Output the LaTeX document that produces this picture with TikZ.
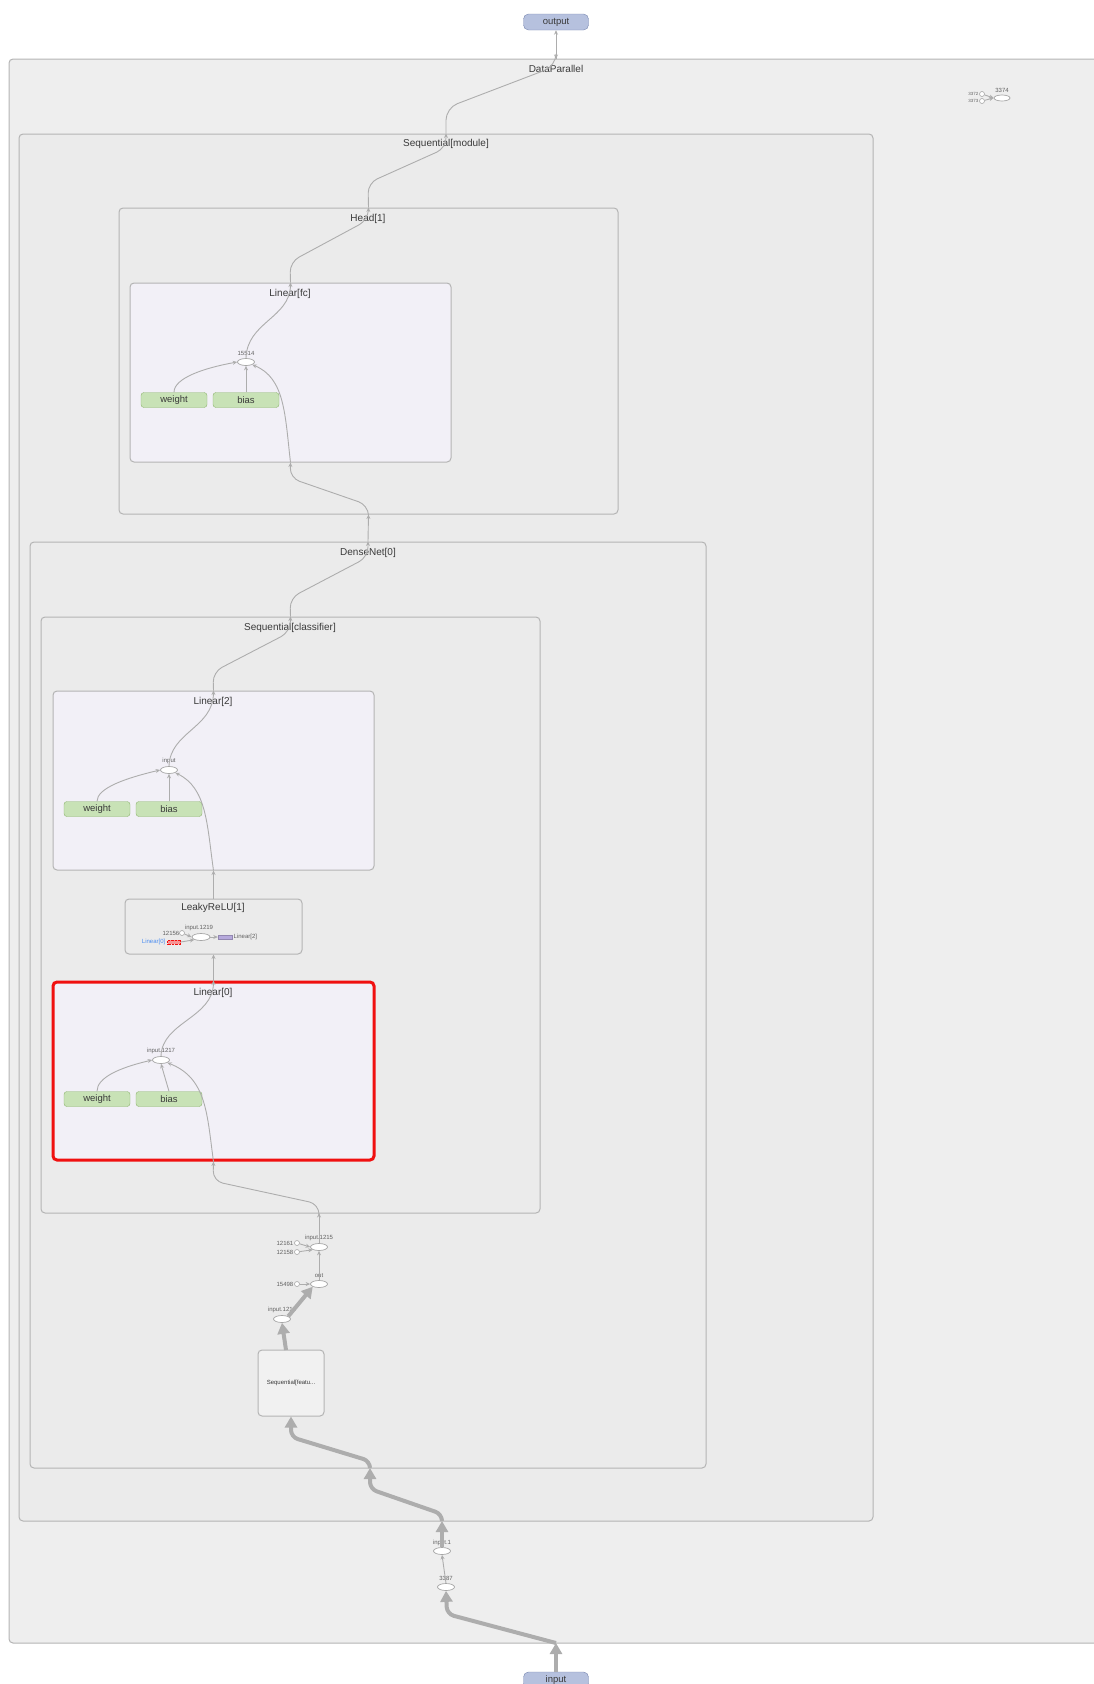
\documentclass[tikz,border=0pt]{standalone}
\usepackage{fontspec}
\setmainfont{Liberation Sans}
\usetikzlibrary{arrows.meta,shapes.geometric}

\definecolor{pagefill}{HTML}{EEEEEE}
\definecolor{boxfill}{HTML}{EBEBEB}
\definecolor{boxline}{HTML}{B4B4B4}
\definecolor{lavfill}{HTML}{F2F0F7}
\definecolor{paramfill}{HTML}{C8E2B6}
\definecolor{paramline}{HTML}{8DB46F}
\definecolor{iofill}{HTML}{B6C1DE}
\definecolor{ioline}{HTML}{7887B0}
\definecolor{edgecol}{HTML}{ADADAD}
\definecolor{txtcol}{HTML}{3A3A3A}
\definecolor{linkblue}{HTML}{4A8CF0}
\definecolor{refpurple}{HTML}{B6A9DC}
\definecolor{hlred}{HTML}{F01010}

\tikzset{
  cluster/.style={draw=boxline, fill=boxfill, line width=1pt, rounded corners=4pt, inner sep=0pt},
  linbox/.style={cluster, fill=lavfill},
  title/.style={font=\fontsize{10}{11}\selectfont, text=txtcol, inner sep=1pt},
  param/.style={draw=paramline, fill=paramfill, rounded corners=3pt, minimum width=66pt, minimum height=15pt,
    inner sep=0pt, font=\fontsize{9.5}{10}\selectfont, text=txtcol},
  iobox/.style={draw=ioline, fill=iofill, rounded corners=5pt, minimum width=65pt, minimum height=16pt,
    inner sep=0pt, font=\fontsize{9.5}{10}\selectfont, text=txtcol},
  op/.style={ellipse, draw=gray!70, fill=white, line width=0.7pt, minimum width=17pt, minimum height=7pt, inner sep=0pt},
  const/.style={circle, draw=gray!70, fill=white, line width=0.6pt, minimum size=5pt, inner sep=0pt},
  tiny/.style={font=\fontsize{6}{6.5}\selectfont, text=txtcol!80, inner sep=0.5pt},
  flow/.style={draw=edgecol, line width=0.9pt, -{Stealth[length=4.5pt,width=4pt]}},
  bigflow/.style={draw=edgecol, line width=4pt, -{Triangle[length=11pt,width=12pt]}},
}

\begin{document}
\begin{tikzpicture}[x=1pt,y=-1pt]
\useasboundingbox (0,0) rectangle (1094,1684);

% nested module boxes
\node[cluster, fill=pagefill, minimum width=1102pt, minimum height=1584pt] (dp) at (560,851) {};
\node[cluster, minimum width=854pt, minimum height=1387pt] (module) at (446,827.5) {};
\node[cluster, minimum width=499pt, minimum height=306pt] (head) at (368.5,361) {};
\node[linbox, minimum width=321pt, minimum height=179pt] (linfc) at (290.5,372.5) {};
\node[cluster, minimum width=676pt, minimum height=926pt] (dense) at (368,1005) {};
\node[cluster, minimum width=499pt, minimum height=596pt] (classif) at (290.5,915) {};
\node[linbox, minimum width=321pt, minimum height=179pt] (lin2) at (213.5,780.5) {};
\node[cluster, minimum width=177pt, minimum height=55pt] (leaky) at (213.5,926.5) {};
\node[linbox, draw=hlred, line width=3pt, minimum width=321pt, minimum height=178pt] (lin0) at (213.5,1071) {};
\node[cluster, fill=boxfill!70!white, minimum width=66pt, minimum height=66pt,
  font=\fontsize{6}{7}\selectfont, text=txtcol] (feat) at (291,1383) {Sequential[featu...};

% box titles
\node[title] (dplbl) at (556,69) {DataParallel};
\node[title] (modulelbl) at (446,144) {Sequential[module]};
\node[title] (headlbl) at (368,219) {Head[1]};
\node[title] (linfclbl) at (290,294) {Linear[fc]};
\node[title] (denselbl) at (368,553) {DenseNet[0]};
\node[title] (classiflbl) at (290,628) {Sequential[classifier]};
\node[title] (lin2lbl) at (213,702) {Linear[2]};
\node[title] (leakylbl) at (213,908) {LeakyReLU[1]};
\node[title] (lin0lbl) at (213,993) {Linear[0]};

% graph ends
\node[iobox] (output) at (556,22) {output};
\node[iobox] (input) at (556,1680) {input};

% Linear[fc]
\node[op] (n15514) at (246,362) {};
\node[tiny] (n15514lbl) at (246,353) {15514};
\node[param] (wfc) at (174,400) {weight};
\node[param] (bfc) at (246,400) {bias};

% Linear[2]
\node[op] (in2) at (169,770) {};
\node[tiny] (in2lbl) at (169,761) {input};
\node[param] (w2) at (97,809) {weight};
\node[param] (b2) at (169,809) {bias};

% LeakyReLU[1]
\node[op, minimum width=18pt] (in1219) at (201,937) {};
\node[tiny] (in1219lbl) at (199,928) {input.1219};
\node[const] (c12156) at (182,933) {};
\node[tiny, anchor=east] (c12156lbl) at (180,933) {12156};
\node[draw=hlred, densely dotted, fill=hlred!45, minimum width=13pt, minimum height=4pt, inner sep=0pt] (ref0) at (174,942) {};
\node[tiny, text=linkblue, anchor=east] (ref0lbl) at (166,942) {Linear[0]};
\node[draw=refpurple!80!black, fill=refpurple, minimum width=14pt, minimum height=4pt, inner sep=0pt] (ref2) at (225,937) {};
\node[tiny, anchor=west] (ref2lbl) at (233,937) {Linear[2]};

% Linear[0]
\node[op] (in1217) at (161,1060) {};
\node[tiny] (in1217lbl) at (161,1051) {input.1217};
\node[param] (w0) at (97,1099) {weight};
\node[param] (b0) at (169,1099) {bias};

% DenseNet[0] ops
\node[op] (in1215) at (319,1247) {};
\node[tiny] (in1215lbl) at (319,1238) {input.1215};
\node[const] (c12161) at (297,1243) {};
\node[tiny, anchor=east] (c12161lbl) at (294,1243) {12161};
\node[const] (c12158) at (297,1252) {};
\node[tiny, anchor=east] (c12158lbl) at (294,1252) {12158};
\node[op] (out) at (319,1284) {};
\node[tiny] (outlbl) at (319,1276) {out};
\node[const] (c15498) at (297,1284) {};
\node[tiny, anchor=east] (c15498lbl) at (294,1284) {15498};
\node[op] (in1213) at (282,1319) {};
\node[tiny] (in1213lbl) at (282,1310) {input.1213};

% DataParallel ops
\node[op] (in1) at (442,1551) {};
\node[tiny] (in1lbl) at (442,1543) {input.1};
\node[op] (n3387) at (446,1587) {};
\node[tiny] (n3387lbl) at (446,1578) {3387};
\node[op, minimum width=16pt, minimum height=6pt] (n3374) at (1002,98) {};
\node[tiny] (n3374lbl) at (1002,90) {3374};
\node[const] (c3372) at (982,94) {};
\node[tiny, anchor=east, font=\fontsize{4.5}{5}\selectfont] (c3372lbl) at (979,94) {3372};
\node[const] (c3373) at (982,101) {};
\node[tiny, anchor=east, font=\fontsize{4.5}{5}\selectfont] (c3373lbl) at (979,101) {3373};

% where edges cross box borders
\coordinate (dpbot) at (556,1643);
\coordinate (dptop) at (556,59);
\coordinate (modbot) at (442,1521);
\coordinate (densebot) at (370,1468);
\coordinate (classifbot) at (319,1213);
\coordinate (feattop) at (286,1350);

% input side (thick)
\draw[bigflow] (input.north) -- (dpbot);
\draw[bigflow, rounded corners=7pt] (dpbot) -- (447,1614) -- (n3387.south);
\draw[flow] (n3387.north) -- (in1.south);
\draw[bigflow] (in1.north) -- (modbot);
\draw[bigflow, rounded corners=7pt] (modbot) -- (442,1514) -- (370,1489) -- (densebot);
\draw[bigflow, rounded corners=7pt] (densebot) -- (370,1461) -- (291,1437) -- (feat.south);
\draw[bigflow] (feattop) -- (in1213.south);
\draw[bigflow] (in1213.north east) -- (out.south west);

% DenseNet[0] thin edges
\draw[flow] (c15498) -- (out.west);
\draw[flow] (out.north) -- (in1215.south);
\draw[flow] (c12161) -- (in1215.west);
\draw[flow] (c12158) -- (in1215.south west);
\draw[flow] (in1215.north) -- (classifbot);
\draw[flow, rounded corners=10pt] (classifbot) -- (319,1204) -- (213,1181) -- (lin0.south);

% Linear[0]
\draw[flow] (lin0.south) .. controls (207,1115) and (207,1078) .. (in1217.south east);
\draw[flow] (w0.north) .. controls (97,1078) and (118,1068) .. (in1217.west);
\draw[flow] (b0.north) -- (in1217.south);
\draw[flow] (in1217.north) .. controls (162,1022) and (213,1018) .. (lin0.north);
\draw[flow] (lin0.north) -- (leaky.south);

% LeakyReLU[1]
\draw[flow] (c12156) -- (in1219.west);
\draw[flow] (ref0.east) -- (in1219.south west);
\draw[flow] (in1219.east) -- (ref2.west);
\draw[flow] (leaky.north) -- (lin2.south);

% Linear[2]
\draw[flow] (lin2.south) .. controls (207,825) and (207,788) .. (in2.south east);
\draw[flow] (w2.north) .. controls (97,788) and (126,778) .. (in2.west);
\draw[flow] (b2.north) -- (in2.south);
\draw[flow] (in2.north) .. controls (170,732) and (213,728) .. (lin2.north);

% up through the classifier and DenseNet
\draw[flow, rounded corners=10pt] (lin2.north) -- (213,672) -- (290,632) -- (classif.north);
\draw[flow, rounded corners=10pt] (classif.north) -- (290,598) -- (368,557) -- (dense.north);
\draw[flow] (dense.north) -- (head.south);
\draw[flow, rounded corners=10pt] (head.south) -- (368,505) -- (290,478) -- (linfc.south);

% Linear[fc]
\draw[flow] (linfc.south) .. controls (285,415) and (285,378) .. (n15514.south east);
\draw[flow] (wfc.north) .. controls (174,378) and (204,368) .. (n15514.west);
\draw[flow] (bfc.north) -- (n15514.south);
\draw[flow] (n15514.north) .. controls (247,322) and (290,318) .. (linfc.north);

% up to the output
\draw[flow, rounded corners=10pt] (linfc.north) -- (290,262) -- (368,220) -- (head.north);
\draw[flow, rounded corners=10pt] (head.north) -- (368,183) -- (446,148) -- (module.north);
\draw[flow, rounded corners=12pt] (module.north) -- (446,108) -- (556,66) -- (dptop);
\draw[flow] (dptop) -- (output.south);

% loose ops at the top right
\draw[flow] (c3372) -- (n3374.west);
\draw[flow] (c3373) -- (n3374.west);
\end{tikzpicture}
\end{document}
